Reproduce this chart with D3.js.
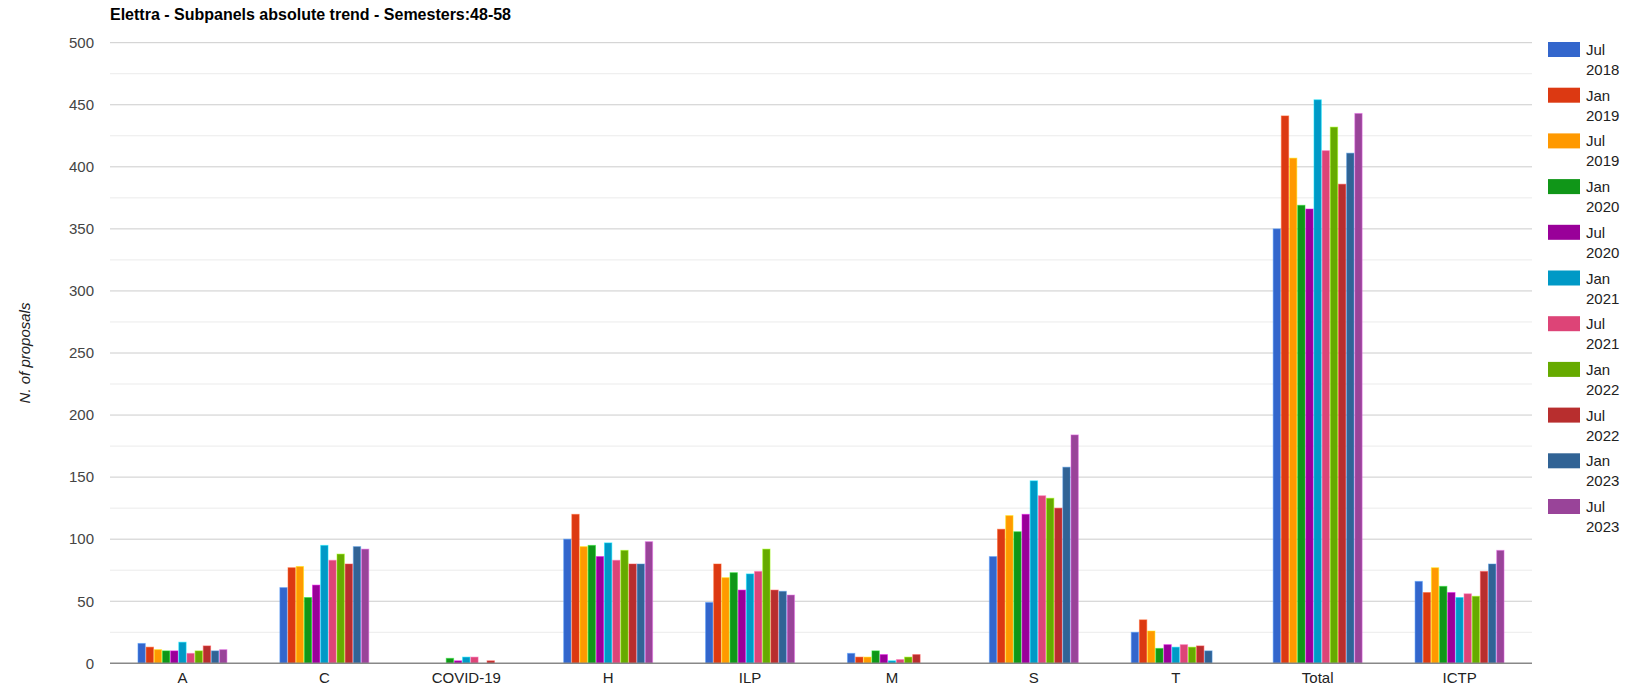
<!DOCTYPE html>
<html>
<head>
<meta charset="utf-8">
<script src="https://cdn.jsdelivr.net/npm/d3@7"></script>
<style>
  html, body { margin: 0; padding: 0; background: #fff; }
  svg { display: block; font-family: Arial, "Liberation Sans", sans-serif; }
</style>
</head>
<body>
<svg id="chart" width="1652" height="694"></svg>
<script>
// categories and semesters
const categories = ['A', 'C', 'COVID-19', 'H', 'ILP', 'M', 'S', 'T', 'Total', 'ICTP'];
const semesters = ['Jul 2018', 'Jan 2019', 'Jul 2019', 'Jan 2020', 'Jul 2020', 'Jan 2021',
                   'Jul 2021', 'Jan 2022', 'Jul 2022', 'Jan 2023', 'Jul 2023'];
const colors = ['#3366cc', '#dc3912', '#ff9900', '#109618', '#990099', '#0099c6',
                '#dd4477', '#66aa00', '#b82e2e', '#316395', '#994499'];

// one array per category, values in semester order
const valA     = [16, 13, 11, 10, 10, 17, 8, 10, 14, 10, 11];
const valC     = [61, 77, 78, 53, 63, 95, 83, 88, 80, 94, 92];
const valCovid = [0, 0, 0, 4, 2, 5, 5, 0, 2, 0, 0];
const valH     = [100, 120, 94, 95, 86, 97, 83, 91, 80, 80, 98];
const valILP   = [49, 80, 69, 73, 59, 72, 74, 92, 59, 58, 55];
const valM     = [8, 5, 5, 10, 7, 2, 3, 5, 7, 0, 0];
const valS     = [86, 108, 119, 106, 120, 147, 135, 133, 125, 158, 184];
const valT     = [25, 35, 26, 12, 15, 13, 15, 13, 14, 10, 0];
const valTotal = [350, 441, 407, 369, 366, 454, 413, 432, 386, 411, 443];
const valICTP  = [66, 57, 77, 62, 57, 53, 56, 54, 74, 80, 91];

const values = [valA, valC, valCovid, valH, valILP, valM, valS, valT, valTotal, valICTP];

const svg = d3.select('#chart');
const plot = { left: 110, right: 1532, top: 42.7, bottom: 663.3 };

const y = d3.scaleLinear().domain([0, 500]).range([plot.bottom, plot.top]);

const x0 = d3.scaleBand().domain(categories)
  .range([111.5, 1530.5]).paddingInner(0.373).paddingOuter(0.1865);
const x1 = d3.scaleBand().domain(semesters)
  .range([0, x0.bandwidth()]).paddingInner(0.1);

// title
svg.append('text')
  .attr('x', plot.left).attr('y', 20)
  .style('font-size', '16px').style('font-weight', 'bold').attr('fill', '#000')
  .text('Elettra - Subpanels absolute trend - Semesters:48-58');

// gridlines: major every 50, minor every 25
const grid = svg.append('g');
grid.selectAll('line.minor').data(d3.range(25, 500, 50)).enter().append('line')
  .attr('class', 'minor')
  .attr('x1', plot.left).attr('x2', plot.right)
  .attr('y1', d => y(d)).attr('y2', d => y(d))
  .attr('stroke', '#ebebeb').attr('stroke-width', 1);
grid.selectAll('line.major').data(d3.range(50, 501, 50)).enter().append('line')
  .attr('class', 'major')
  .attr('x1', plot.left).attr('x2', plot.right)
  .attr('y1', d => y(d)).attr('y2', d => y(d))
  .attr('stroke', '#cccccc').attr('stroke-width', 1);

// y axis labels
const yAxis = svg.append('g').attr('transform', 'translate(' + 94 + ',0)')
  .call(d3.axisLeft(y).tickValues(d3.range(0, 501, 50)).tickSize(0).tickPadding(0));
yAxis.select('.domain').remove();
yAxis.selectAll('text')
  .style('font-size', '15px').attr('fill', '#444').style('font-family', 'Arial, "Liberation Sans", sans-serif');

svg.append('text')
  .attr('transform', 'translate(30,' + ((plot.top + plot.bottom) / 2) + ') rotate(-90)')
  .attr('text-anchor', 'middle')
  .style('font-size', '15px').style('font-style', 'italic').attr('fill', '#222')
  .text('N. of proposals');

// bars
const groups = svg.append('g').selectAll('g.cat').data(categories).enter().append('g')
  .attr('class', 'cat')
  .attr('transform', d => 'translate(' + x0(d) + ',0)');

groups.selectAll('rect')
  .data((d, i) => semesters.map((s, j) => ({ s, j, v: values[i][j] })).filter(e => e.v > 0))
  .enter().append('rect')
  .attr('x', d => x1(d.s))
  .attr('width', x1.bandwidth())
  .attr('y', d => y(d.v))
  .attr('height', d => y(0) - y(d.v))
  .attr('fill', d => colors[d.j])
  .attr('stroke', d => d3.color(colors[d.j]).brighter(1.2))
  .attr('stroke-opacity', 0.5)
  .attr('stroke-width', 1);

// baseline
svg.append('line')
  .attr('x1', plot.left).attr('x2', plot.right)
  .attr('y1', y(0)).attr('y2', y(0))
  .attr('stroke', '#888').attr('stroke-width', 1.5);

// x axis labels
const xAxis = svg.append('g').attr('transform', 'translate(0,' + (plot.bottom + 9) + ')')
  .call(d3.axisBottom(x0).tickSize(0).tickPadding(0));
xAxis.select('.domain').remove();
xAxis.selectAll('text')
  .style('font-size', '15px').attr('fill', '#222').style('font-family', 'Arial, "Liberation Sans", sans-serif');

// legend
const legend = svg.append('g').selectAll('g.leg').data(semesters).enter().append('g')
  .attr('class', 'leg')
  .attr('transform', (d, i) => 'translate(1548,' + (42 + i * 45.7) + ')');
legend.append('rect')
  .attr('width', 32).attr('height', 15)
  .attr('fill', (d, i) => colors[i]);
legend.append('text')
  .attr('x', 38).attr('y', 13)
  .style('font-size', '15px').attr('fill', '#222')
  .selectAll('tspan').data(d => d.split(' ')).enter().append('tspan')
  .attr('x', 38).attr('dy', (d, i) => i === 0 ? 0 : 20)
  .text(d => d);
</script>
</body>
</html>
